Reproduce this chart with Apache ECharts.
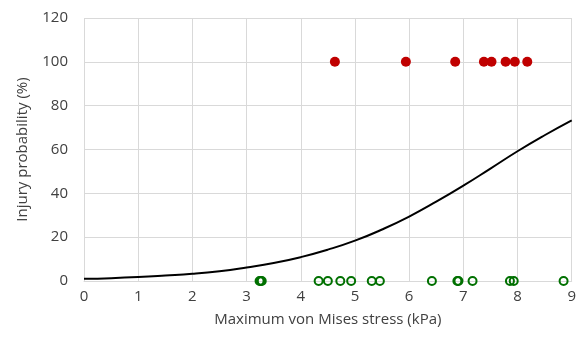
<!DOCTYPE html>
<html><head><meta charset="utf-8">
<script src="https://cdn.jsdelivr.net/npm/echarts@6/dist/echarts.min.js"></script>
<style>html,body{margin:0;padding:0;background:#fff}#c{width:579px;height:349px}</style>
</head><body><div id="c"></div>
<script>
const injuredX = [4.63, 5.94, 6.85, 7.38, 7.52, 7.78, 7.95, 8.18];
const injuredY = [100, 100, 100, 100, 100, 100, 100, 100];
const uninjuredX = [3.24, 3.26, 3.28, 4.33, 4.50, 4.73, 4.93, 5.31, 5.46, 6.42, 6.89, 6.91, 7.17, 7.86, 7.93, 8.85];
const uninjuredY = [0, 0, 0, 0, 0, 0, 0, 0, 0, 0, 0, 0, 0, 0, 0, 0];
const curveX = [0, 0.5, 1, 1.5, 2, 2.5, 3, 3.5, 4, 4.5, 5, 5.5, 6, 6.5, 7, 7.5, 8, 8.5, 9];
const curveY = [1.0, 1.3, 1.8, 2.5, 3.3, 4.5, 6.2, 8.2, 10.9, 14.3, 18.4, 23.5, 29.4, 36.2, 43.5, 51.3, 59.2, 66.5, 73.3];
const xTitle = 'Maximum von Mises stress (kPa)';
const yTitle = 'Injury probability (%)';

const zip = (a, b) => a.map((v, i) => [v, b[i]]);
const font = 'Open Sans, Liberation Sans, Arial, sans-serif';
const chart = echarts.init(document.getElementById('c'));
chart.setOption({
  animation: false,
  grid: {left: 84, right: 6, top: 18, bottom: 68},
  xAxis: {
    type: 'value', min: 0, max: 9, interval: 1,
    name: xTitle, nameLocation: 'middle', nameGap: 31, nameMoveOverlap: false,
    nameTextStyle: {fontFamily: font, fontSize: 15, color: '#404040'},
    axisLine: {show: true, lineStyle: {color: '#d9d9d9'}},
    axisTick: {show: false},
    axisLabel: {fontFamily: font, fontSize: 15, color: '#404040', margin: 8},
    splitLine: {show: true, lineStyle: {color: '#d9d9d9'}}
  },
  yAxis: {
    type: 'value', min: 0, max: 120, interval: 20,
    name: yTitle, nameLocation: 'middle', nameGap: 54, nameMoveOverlap: false,
    nameTextStyle: {fontFamily: font, fontSize: 15, color: '#404040'},
    axisLine: {show: false},
    axisTick: {show: false},
    axisLabel: {fontFamily: font, fontSize: 15, color: '#404040', margin: 16},
    splitLine: {show: true, lineStyle: {color: '#d9d9d9'}}
  },
  series: [
    {
      type: 'line', data: zip(curveX, curveY), smooth: true, showSymbol: false,
      lineStyle: {color: '#000', width: 2}, z: 2
    },
    {
      type: 'scatter', data: zip(injuredX, injuredY), symbol: 'circle', symbolSize: 10, clip: false,
      itemStyle: {color: '#c00000', opacity: 1}, z: 3
    },
    {
      type: 'scatter', data: zip(uninjuredX, uninjuredY), symbol: 'circle', symbolSize: 8, clip: false,
      itemStyle: {color: 'rgba(255,255,255,0)', borderColor: '#007000', borderWidth: 2, opacity: 1}, z: 3
    }
  ]
});
</script></body></html>
